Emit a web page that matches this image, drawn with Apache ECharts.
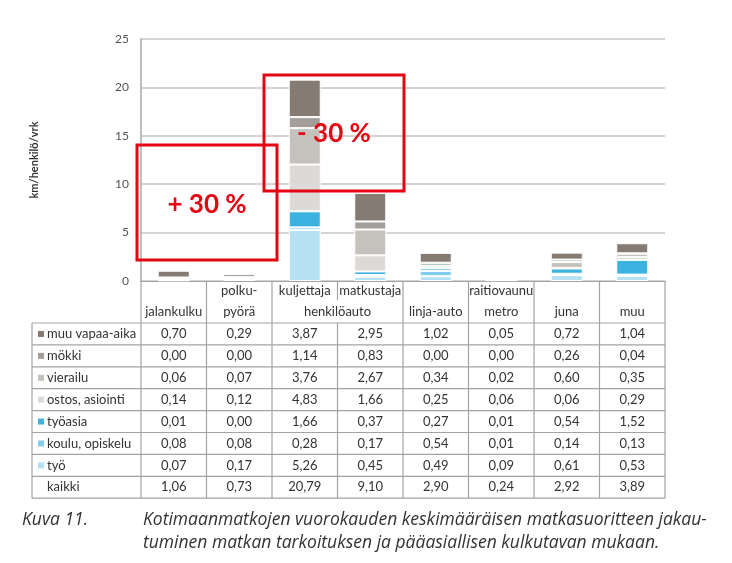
<!DOCTYPE html>
<html><head><meta charset="utf-8">
<script src="https://cdn.jsdelivr.net/npm/echarts@6/dist/echarts.min.js"></script>
<style>html,body{margin:0;padding:0;background:#fff}#c{width:732px;height:563px}</style>
</head><body><div id="c"></div>
<script>
// ---- data ----
const categories = ['jalankulku', 'polkupyörä', 'henkilöauto kuljettaja', 'henkilöauto matkustaja', 'linja-auto', 'raitiovaunu metro', 'juna', 'muu'];
const headerTop = ['', 'polku-', 'kuljettaja', 'matkustaja', '', 'raitiovaunu', '', ''];
const headerBottom = ['jalankulku', 'pyörä', '', '', 'linja-auto', 'metro', 'juna', 'muu'];
const headerSpan = 'henkilöauto';
const rowNames = ['muu vapaa-aika', 'mökki', 'vierailu', 'ostos, asiointi', 'työasia', 'koulu, opiskelu', 'työ', 'kaikki'];
const muuVapaaAika = [0.70, 0.29, 3.87, 2.95, 1.02, 0.05, 0.72, 1.04];
const mokki        = [0.00, 0.00, 1.14, 0.83, 0.00, 0.00, 0.26, 0.04];
const vierailu     = [0.06, 0.07, 3.76, 2.67, 0.34, 0.02, 0.60, 0.35];
const ostos        = [0.14, 0.12, 4.83, 1.66, 0.25, 0.06, 0.06, 0.29];
const tyoasia      = [0.01, 0.00, 1.66, 0.37, 0.27, 0.01, 0.54, 1.52];
const koulu        = [0.08, 0.08, 0.28, 0.17, 0.54, 0.01, 0.14, 0.13];
const tyo          = [0.07, 0.17, 5.26, 0.45, 0.49, 0.09, 0.61, 0.53];
const kaikki       = [1.06, 0.73, 20.79, 9.10, 2.90, 0.24, 2.92, 3.89];
const yTicks = [0, 5, 10, 15, 20, 25];
const yName = 'km/henkilö/vrk';
const notes = ['+ 30 %', '- 30 %'];
const captionLabel = 'Kuva 11.';
const captionLines = ['Kotimaanmatkojen vuorokauden keskimääräisen matkasuoritteen jakau-', 'tuminen matkan tarkoituksen ja pääasiallisen kulkutavan mukaan.'];

// ---- styles ----
const rowData = [muuVapaaAika, mokki, vierailu, ostos, tyoasia, koulu, tyo];
const rowColors = ['#857b72', '#a39e99', '#c5c1bd', '#dcd9d6', '#3bb2df', '#80cdec', '#b5e1f2'];
const FONT = 'Lato, "Open Sans", sans-serif';
const CAPFONT = '"Open Sans", Lato, sans-serif';
const RED = '#e30613';
const LINE = '#a3a3a3';

const chart = echarts.init(document.getElementById('c'));
const series = [];
for (let k = rowData.length - 1; k >= 0; k--) {
  series.push({
    name: rowNames[k], type: 'bar', stack: 'all', data: rowData[k], barWidth: 32,
    itemStyle: { color: rowColors[k], borderColor: '#fff', borderWidth: 1 },
    emphasis: { disabled: true }
  });
}
chart.setOption({
  animation: false,
  grid: { left: 141, right: 67, top: 39, bottom: 282 },
  xAxis: {
    type: 'category', data: categories,
    axisLine: { show: true, lineStyle: { color: LINE, width: 1.2 } },
    axisTick: { show: false }, axisLabel: { show: false }
  },
  yAxis: {
    type: 'value', min: yTicks[0], max: yTicks[yTicks.length - 1], interval: yTicks[1] - yTicks[0],
    name: yName, nameLocation: 'middle', nameGap: 101,
    nameTextStyle: { fontFamily: FONT, fontWeight: 'bold', fontSize: 11, color: '#333' },
    axisLine: { show: true, lineStyle: { color: '#aaa', width: 1.5 } },
    axisTick: { show: false },
    axisLabel: { fontFamily: FONT, fontSize: 12, color: '#555', margin: 12 },
    splitLine: { lineStyle: { color: '#c6c6c6', width: 1.5 } }
  },
  series: series
});

// ---- table & annotations ----
const cx = categories.map((c, i) => chart.convertToPixel({ xAxisIndex: 0 }, i));
const band = cx[1] - cx[0];
const bounds = cx.map(x => x - band / 2).concat([cx[cx.length - 1] + band / 2]);
const y0 = chart.convertToPixel({ yAxisIndex: 0 }, 0);
const headerH = 42, rowH = 21.9, tableLeft = 32;
const bodyTop = y0 + headerH;
const bottom = bodyTop + rowH * rowNames.length;
const g = [];
function line(x1, y1, x2, y2) {
  g.push({ type: 'line', shape: { x1, y1, x2, y2 }, style: { stroke: LINE, lineWidth: 1.2 }, silent: true });
}
function text(t, x, y, opt, z) {
  g.push({ type: 'text', x, y, silent: true, z: z || 1,
    style: Object.assign({ text: t, fill: '#333', font: '13px ' + FONT, align: 'center', verticalAlign: 'middle' }, opt || {}) });
}
// horizontal lines
line(tableLeft, bodyTop, bounds[8], bodyTop);
for (let r = 1; r <= rowNames.length; r++) line(tableLeft, bodyTop + r * rowH, bounds[8], bodyTop + r * rowH);
// vertical lines
line(tableLeft, bodyTop, tableLeft, bottom);
bounds.forEach((b, i) => {
  if (i === 3) { line(b, y0, b, y0 + headerH / 2 - 2); line(b, bodyTop, b, bottom); }
  else line(b, y0, b, bottom);
});
// header
categories.forEach((c, i) => {
  if (headerTop[i]) text(headerTop[i], cx[i], y0 + 10);
  if (headerBottom[i]) text(headerBottom[i], cx[i], y0 + 31);
});
text(headerSpan, bounds[3], y0 + 31);
// body
const allRows = rowData.concat([kaikki]);
rowNames.forEach((n, r) => {
  const yc = bodyTop + r * rowH + rowH / 2;
  if (r < rowColors.length) {
    g.push({ type: 'rect', shape: { x: tableLeft + 6, y: yc - 3, width: 6, height: 6 }, style: { fill: rowColors[r] }, silent: true });
  }
  text(n, tableLeft + 15, yc, { align: 'left' });
  allRows[r].forEach((v, i) => text(v.toFixed(2).replace('.', ','), cx[i], yc));
});
// red annotation boxes
g.push({ type: 'rect', z: 100, shape: { x: 137, y: 145, width: 140, height: 115 }, style: { fill: 'none', stroke: RED, lineWidth: 3 }, silent: true });
g.push({ type: 'rect', z: 100, shape: { x: 264, y: 75, width: 140, height: 116 }, style: { fill: 'none', stroke: RED, lineWidth: 3 }, silent: true });
text(notes[0], 207, 205, { fill: RED, font: 'bold 26px ' + FONT }, 100);
text(notes[1], 334, 134, { fill: RED, font: 'bold 26px ' + FONT }, 100);
// caption
text(captionLabel, 22, 520, { align: 'left', font: 'italic 17.5px ' + CAPFONT, fill: '#333' });
text(captionLines[0], 143, 520, { align: 'left', font: 'italic 17.5px ' + CAPFONT, fill: '#333' });
text(captionLines[1], 143, 543, { align: 'left', font: 'italic 17.5px ' + CAPFONT, fill: '#333' });
chart.setOption({ graphic: { elements: g } });
</script>
</body></html>
